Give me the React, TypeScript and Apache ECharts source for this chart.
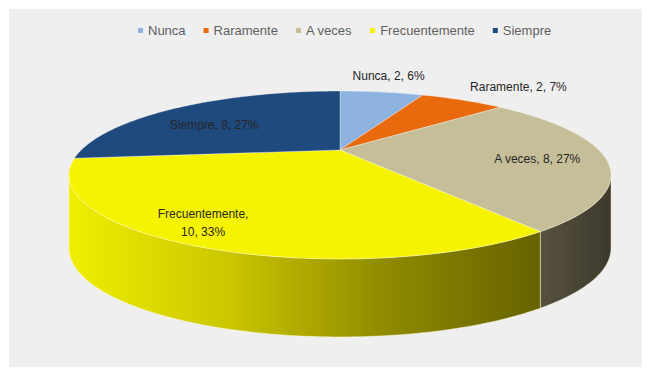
import React, { useEffect, useRef } from "react";
import * as echarts from "echarts";

// ---- data ----
const categories = ["Nunca", "Raramente", "A veces", "Frecuentemente", "Siempre"];
const values = [2, 2, 8, 10, 8];
const percentLabels = ["6%", "7%", "27%", "33%", "27%"];

// ---- styles ----
const topColors = ["#8fb3e0", "#e9690d", "#c5be99", "#f6f300", "#1f4a7e"];
const wallStops: string[][] = [
  ["#6f8db3", "#56739a"],
  ["#b55209", "#8a3f07"],
  ["#57523f", "#3d392c"],
  ["#f0ee00", "#cbc700", "#908b00", "#666200"],
  ["#183b66", "#10294a"],
];
const labelAngleOffsetDeg = [-1, 4, 3, 5, -8];
const labelRadius = [1.38, 1.42, 0.745, 0.85, 0.65];
const FONT = "Liberation Sans, Arial, sans-serif";

// ---- projection (perspective tilted disc) ----
const CX = 340;
const CY = 150;
const K = 830.6;
const DIST = 3.21;
const TILT = (17.2 * Math.PI) / 180;
const SN = Math.sin(TILT);
const CS = Math.cos(TILT);

function project(theta: number, r: number): [number, number] {
  const X = r * Math.sin(theta);
  const Z = r * Math.cos(theta);
  const depth = DIST + Z * CS;
  return [CX + (K * X) / depth, CY - (K * Z * SN) / depth];
}
function thickness(theta: number) {
  return 71 + 7 * Math.max(0, -Math.cos(theta));
}

const total = values.reduce((a, b) => a + b, 0);
const starts: number[] = [];
const ends: number[] = [];
{
  let acc = 0;
  values.forEach((v) => {
    starts.push((acc / total) * Math.PI * 2);
    acc += v;
    ends.push((acc / total) * Math.PI * 2);
  });
}
const silLo = Math.acos(-CS / DIST);
const silHi = Math.PI * 2 - silLo;

function arcPoints(a0: number, a1: number, dy?: (t: number) => number) {
  const pts: number[][] = [];
  const steps = Math.max(2, Math.ceil((a1 - a0) / (Math.PI / 180)));
  for (let s = 0; s <= steps; s++) {
    const t = a0 + ((a1 - a0) * s) / steps;
    const p = project(t, 1);
    pts.push([p[0], p[1] + (dy ? dy(t) : 0)]);
  }
  return pts;
}

export default function App() {
  const ref = useRef<HTMLDivElement>(null);
  useEffect(() => {
    if (!ref.current) return;
    const chart = echarts.init(ref.current, undefined, { renderer: "svg" });
    const seriesData = values.map((v, i) => ({ name: categories[i], value: v }));
    chart.setOption({
      animation: false,
      backgroundColor: "#ffffff",
      graphic: [
        {
          type: "rect",
          z: -10,
          silent: true,
          shape: { x: 9, y: 9, width: 633, height: 358 },
          style: { fill: "#efefef" },
        },
      ],
      legend: {
        data: categories,
        top: 19,
        left: 133,
        icon: "rect",
        itemWidth: 5,
        itemHeight: 5,
        itemGap: 18,
        textStyle: { color: "#5f5f5f", fontSize: 13, fontFamily: FONT },
      },
      series: [
        {
          type: "pie",
          name: "legend",
          silent: true,
          center: [-500, -500],
          radius: 1,
          label: { show: false },
          labelLine: { show: false },
          data: seriesData.map((d, i) => ({ ...d, itemStyle: { color: topColors[i] } })),
        },
        {
          type: "custom",
          name: "walls",
          coordinateSystem: "none",
          z: 3,
          silent: true,
          data: values,
          renderItem: (params: any) => {
            const i = params.dataIndex;
            const b0 = Math.max(starts[i], silLo);
            const b1 = Math.min(ends[i], silHi);
            if (b1 <= b0) return { type: "group", children: [] };
            const top = arcPoints(b0, b1);
            const bottom = arcPoints(b0, b1, thickness).reverse();
            const stops = wallStops[i];
            return {
              type: "polygon",
              shape: { points: top.concat(bottom) },
              style: {
                fill: {
                  type: "linear",
                  x: 0,
                  y: 0,
                  x2: 1,
                  y2: 0,
                  colorStops: stops.map((c, j) => ({ offset: j / (stops.length - 1), color: c })),
                },
                stroke: "rgba(255,255,215,0.55)",
                lineWidth: 0.8,
              },
            };
          },
        },
        {
          type: "custom",
          name: "tops",
          coordinateSystem: "none",
          z: 4,
          silent: true,
          data: values,
          renderItem: (params: any) => {
            const i = params.dataIndex;
            const pts = [[CX, CY]].concat(arcPoints(starts[i], ends[i]));
            return {
              type: "polygon",
              shape: { points: pts },
              style: {
                fill: topColors[i],
                stroke: "rgba(255,255,255,0.45)",
                lineWidth: 0.7,
              },
            };
          },
        },
        {
          type: "custom",
          name: "labels",
          coordinateSystem: "none",
          z: 5,
          silent: true,
          data: values,
          renderItem: (params: any, api: any) => {
            const i = params.dataIndex;
            const mid = (starts[i] + ends[i]) / 2 + (labelAngleOffsetDeg[i] * Math.PI) / 180;
            const p = project(mid, labelRadius[i]);
            const sep = categories[i].length > 10 ? ",\n" : ", ";
            const text = categories[i] + sep + api.value(0) + ", " + percentLabels[i];
            return {
              type: "text",
              x: p[0],
              y: p[1],
              style: {
                text,
                fill: "#262626",
                font: "12px " + FONT,
                align: "center",
                verticalAlign: "middle",
                lineHeight: 18,
              },
            };
          },
        },
      ],
    });
    return () => chart.dispose();
  }, []);
  return (
    <div
      ref={ref}
      style={{ position: "fixed", left: 0, top: 0, width: 650, height: 377 }}
    />
  );
}
